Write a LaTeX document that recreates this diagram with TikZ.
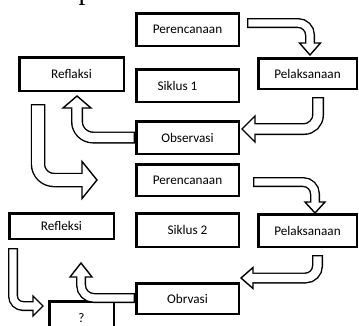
\documentclass[tikz,border=0pt]{standalone}
\usepackage{fontspec}
\setmainfont{Carlito}
\newfontfamily\serifp{Liberation Serif}
\usetikzlibrary{calc}
\newcommand\hollowarr[6]{%
  \draw[line width=#2pt, line cap=butt, rounded corners=#3pt] #1;
  \filldraw[fill=white, line width=1.4pt, line join=miter]
    ($(#4)!#6pt!90:(#5)$) -- (#5) -- ($(#4)!#6pt!-90:(#5)$) -- cycle;
  \pgfmathsetmacro\bandinner{#2-2.8}%
  \draw[white, line width=\bandinner pt, line cap=butt, rounded corners=#3pt,
        shorten <=1.4pt, shorten >=-3pt] #1;
}
\begin{document}
\begin{tikzpicture}[x=1pt,y=-1pt,
  box/.style={draw, line width=2.5pt, inner sep=0pt, font=\fontsize{13.2}{15}\selectfont}]
\useasboundingbox (0,0) rectangle (359,325);

% fragment of text cut by the top edge
\node[anchor=base west, inner sep=0pt, font=\fontsize{28}{28}\serifp] (frag) at (78.5,-0.5) {p};

% cycle 1
\node[box, minimum width=102.5pt, minimum height=32.5pt] (p1) at (187.5,29.5) {Perencanaan};
\node[box, minimum width=104.5pt, minimum height=33.5pt] (r1) at (71.5,74) {Reflaksi};
\node[box, minimum width=102.5pt, minimum height=32.5pt] (s1) at (187.5,85.5) {Siklus 1\hspace*{20pt}};
\node[box, minimum width=102.5pt, minimum height=32.5pt] (o1) at (187.5,137.5) {Observasi};
\node[box, minimum width=98.5pt, minimum height=30.5pt] (l1) at (307.5,73.5) {Pelaksanaan};

% cycle 2
\node[box, minimum width=102.5pt, minimum height=31.5pt] (p2) at (187.5,180) {Perencanaan};
\node[box, minimum width=104.5pt, minimum height=25.5pt] (r2) at (61.5,226) {Refleksi};
\node[box, minimum width=102.5pt, minimum height=33.5pt] (s2) at (187.5,230) {Siklus 2};
\node[box, minimum width=98.5pt, minimum height=32.5pt] (l2) at (307.5,230.5) {Pelaksanaan};
\node[box, minimum width=102.5pt, minimum height=30.5pt] (o2) at (187.5,298.5) {Obrvasi};
\node[box, minimum width=64.5pt, minimum height=33.5pt] (q) at (81.5,318) {?};

% A1: Perencanaan 1 -> Pelaksanaan 1
\coordinate (a1t) at (247,23); \coordinate (a1c) at (310,23);
\coordinate (a1b) at (310,43); \coordinate (a1p) at (310,55);
\hollowarr{(a1t) -- (a1c) -- (a1b)}{10}{12}{a1b}{a1p}{10.5}

% A2: Pelaksanaan 1 -> Observasi
\coordinate (a2t) at (318,97); \coordinate (a2c) at (318,129);
\coordinate (a2b) at (255,129); \coordinate (a2p) at (242,129);
\hollowarr{(a2t) -- (a2c) -- (a2b)}{12}{14}{a2b}{a2p}{13}

% A3: Observasi -> Reflaksi
\coordinate (a3t) at (135,137.5); \coordinate (a3c) at (77,137.5);
\coordinate (a3b) at (77,108); \coordinate (a3p) at (77,96);
\hollowarr{(a3t) -- (a3c) -- (a3b)}{12}{16}{a3b}{a3p}{14}

% A4: Reflaksi -> Perencanaan 2
\coordinate (a4t) at (38,104); \coordinate (a4c) at (38,180);
\coordinate (a4b) at (82,180); \coordinate (a4p) at (97,180);
\hollowarr{(a4t) -- (a4c) -- (a4b)}{14.5}{16}{a4b}{a4p}{18.5}

% A5: Perencanaan 2 -> Pelaksanaan 2
\coordinate (a5t) at (253,182); \coordinate (a5c) at (315,182);
\coordinate (a5b) at (315,202); \coordinate (a5p) at (315,213);
\hollowarr{(a5t) -- (a5c) -- (a5b)}{10}{12}{a5b}{a5p}{10}

% A6: Pelaksanaan 2 -> Obrvasi
\coordinate (a6t) at (317.5,255); \coordinate (a6c) at (317.5,278);
\coordinate (a6b) at (253,278); \coordinate (a6p) at (241,278);
\hollowarr{(a6t) -- (a6c) -- (a6b)}{11}{12}{a6b}{a6p}{10.5}

% A7: Obrvasi -> Refleksi
\coordinate (a7t) at (135,298); \coordinate (a7c) at (81,298);
\coordinate (a7b) at (81,277); \coordinate (a7p) at (81,263);
\hollowarr{(a7t) -- (a7c) -- (a7b)}{10}{13}{a7b}{a7p}{11}

% A8: Refleksi -> ?
\coordinate (a8t) at (13,248); \coordinate (a8c) at (13,306);
\coordinate (a8b) at (33,306); \coordinate (a8p) at (43,306);
\hollowarr{(a8t) -- (a8c) -- (a8b)}{10}{10}{a8b}{a8p}{10}
\end{tikzpicture}
\end{document}
